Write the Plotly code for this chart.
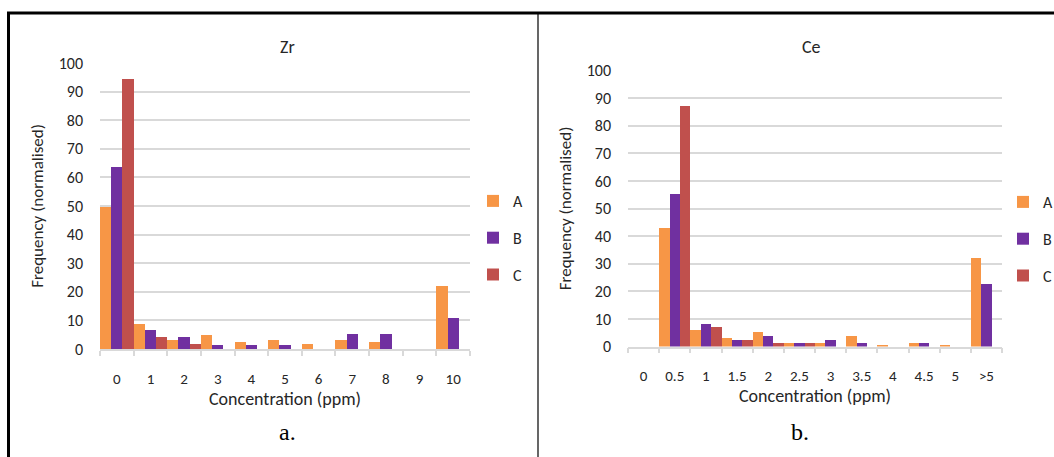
import plotly.graph_objects as go

W, H = 1054, 457

# ---- data ----
zr_categories = ["0", "1", "2", "3", "4", "5", "6", "7", "8", "9", "10"]
zr_A = [49.5, 8.6, 3.1, 4.8, 2.3, 3.1, 1.6, 3.1, 2.3, None, 21.9]
zr_B = [63.6, 6.8, 4.1, 1.4, 1.4, 1.4, None, 5.4, 5.4, None, 10.8]
zr_C = [94.4, 4.2, 1.7, None, None, None, None, None, None, None, None]

ce_categories = ["0", "0.5", "1", "1.5", "2", "2.5", "3", "3.5", "4", "4.5", "5", ">5"]
ce_A = [None, 43.1, 6.2, 3.1, 5.5, 1.6, 1.6, 3.9, 0.8, 1.6, 0.8, 32.1]
ce_B = [None, 55.6, 8.2, 2.6, 4.1, 1.3, 2.6, 1.3, None, 1.3, None, 23.0]
ce_C = [None, 87.2, 7.4, 2.4, 1.6, 1.6, None, None, None, None, None, None]

series_names = ["A", "B", "C"]
series_colors = ["#F79646", "#7030A0", "#C0504D"]

FONT = "Calibri, Carlito, Lato, sans-serif"
TXT = "#262626"
GRID = "#d9d9d9"


def px(x):
    return x / W


def py(y):
    return 1 - y / H


fig = go.Figure()

for name, color, vals in zip(series_names, series_colors, [zr_A, zr_B, zr_C]):
    fig.add_trace(go.Bar(x=zr_categories, y=vals, name=name, marker_color=color,
                         marker_line_width=0, xaxis="x", yaxis="y",
                         legend="legend", legendgroup="z" + name))
for name, color, vals in zip(series_names, series_colors, [ce_A, ce_B, ce_C]):
    fig.add_trace(go.Bar(x=ce_categories, y=vals, name=name, marker_color=color,
                         marker_line_width=0, xaxis="x2", yaxis="y2",
                         legend="legend2", legendgroup="c" + name))

xcommon = dict(type="category", showgrid=False, showline=True, linecolor=GRID, linewidth=1.5,
               ticks="outside", ticklen=5, tickcolor=GRID, tickwidth=1.5, tickson="boundaries",
               tickfont=dict(family=FONT, size=15, color=TXT), ticklabelstandoff=15,
               title=dict(text="Concentration (ppm)", font=dict(family=FONT, size=18, color=TXT),
                          standoff=3),
               fixedrange=True, automargin=False)
ycommon = dict(range=[0, 100], dtick=10, showgrid=True, gridcolor=GRID, gridwidth=1.5,
               zeroline=False, showline=False, ticks="",
               tickfont=dict(family=FONT, size=16, color=TXT), ticklabelstandoff=16,
               title=dict(text="Frequency (normalised)", font=dict(family=FONT, size=17, color=TXT),
                          standoff=10),
               fixedrange=True, automargin=False)

fig.update_layout(
    width=W, height=H, margin=dict(l=0, r=0, t=0, b=0, autoexpand=False),
    paper_bgcolor="white", plot_bgcolor="white",
    barmode="group", bargap=0, bargroupgap=0,
    font=dict(family=FONT, color=TXT),
    xaxis=dict(domain=[px(100), px(470)], anchor="y", **xcommon),
    yaxis=dict(domain=[py(349), py(63)], anchor="x", **ycommon),
    xaxis2=dict(domain=[px(628), px(1002)], anchor="y2", **xcommon),
    yaxis2=dict(domain=[py(346.5), py(70.5)], anchor="x2", **ycommon),
    legend=dict(x=px(473), y=py(184), xanchor="left", yanchor="top", traceorder="grouped",
                tracegroupgap=13, font=dict(family=FONT, size=16, color=TXT),
                bgcolor="rgba(0,0,0,0)", itemwidth=30),
    legend2=dict(x=px(1003), y=py(185), xanchor="left", yanchor="top", traceorder="grouped",
                 tracegroupgap=13, font=dict(family=FONT, size=16, color=TXT),
                 bgcolor="rgba(0,0,0,0)", itemwidth=30),
    showlegend=True,
)

annotations = [
    dict(text="Zr", x=px(287), y=py(47), font=dict(family=FONT, size=18, color=TXT)),
    dict(text="Ce", x=px(811), y=py(47), font=dict(family=FONT, size=18, color=TXT)),
    dict(text="a.", x=px(287), y=py(432), font=dict(family="Liberation Serif, serif", size=24, color="#000")),
    dict(text="b.", x=px(800), y=py(432), font=dict(family="Liberation Serif, serif", size=24, color="#000")),
]
for a in annotations:
    a.update(xref="paper", yref="paper", showarrow=False, xanchor="center", yanchor="middle")
fig.update_layout(annotations=annotations)

shapes = [
    dict(type="line", x0=px(7), x1=1, y0=py(13), y1=py(13), line=dict(color="black", width=3)),
    dict(type="line", x0=px(8.5), x1=px(8.5), y0=py(12), y1=0, line=dict(color="black", width=3)),
    dict(type="line", x0=px(538), x1=px(538), y0=py(13), y1=0, line=dict(color="black", width=1.2)),
]
for s in shapes:
    s.update(xref="paper", yref="paper")
fig.update_layout(shapes=shapes)

fig.write_html("out.html", config={"displayModeBar": False},
               post_script="document.body.style.margin='0';document.body.style.overflow='hidden';")
